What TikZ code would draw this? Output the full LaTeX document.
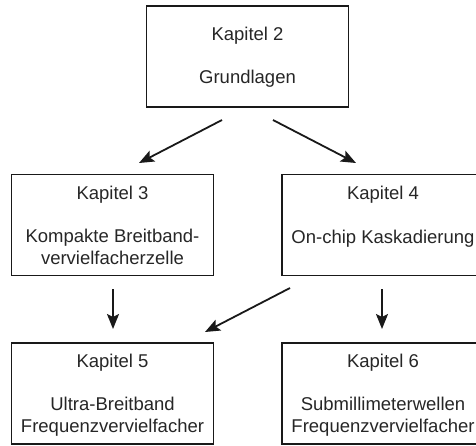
\documentclass[tikz,border=0pt]{standalone}
\usepackage{fontspec}
\setmainfont{Liberation Sans}
\usetikzlibrary{arrows.meta}
\begin{document}
\begin{tikzpicture}[x=1pt,y=-1pt,
  box/.style={draw=black!90,line width=1.8pt,minimum width=202pt,minimum height=101pt,inner sep=0pt},
  txt/.style={anchor=base,inner sep=0pt,font=\fontsize{18.5pt}{22pt}\selectfont,text=black!85},
  arr/.style={-{Stealth[length=15pt,width=12pt,inset=3pt]},line width=1.8pt,black!90}]
\useasboundingbox (0,0) rectangle (476,445);
\node[box] (k2) at (247.5,56.5) {};
\node[box] (k3) at (112.5,225) {};
\node[box] (k4) at (383,225) {};
\node[box] (k5) at (112.5,393.5) {};
\node[box] (k6) at (383,393.5) {};
\node[txt] (t2a) at (247.5,40) {Kapitel 2};
\node[txt] (t2b) at (247.5,83) {Grundlagen};
\node[txt] (t3a) at (112.5,199) {Kapitel 3};
\node[txt] (t3b) at (112.5,242) {Kompakte Breitband-};
\node[txt] (t3c) at (112.5,264) {vervielfacherzelle};
\node[txt] (t4a) at (383,199) {Kapitel 4};
\node[txt] (t4b) at (383,243) {On-chip Kaskadierung};
\node[txt] (t5a) at (112.5,367) {Kapitel 5};
\node[txt] (t5b) at (112.5,410) {Ultra-Breitband};
\node[txt] (t5c) at (112.5,432) {Frequenzvervielfacher};
\node[txt] (t6a) at (383,367) {Kapitel 6};
\node[txt] (t6b) at (383,410) {Submillimeterwellen};
\node[txt] (t6c) at (383,432) {Frequenzvervielfacher};
\coordinate (a1s) at (222,120); \coordinate (a1e) at (139,163);
\coordinate (a2s) at (273,120); \coordinate (a2e) at (356,163);
\coordinate (a3s) at (113,289); \coordinate (a3e) at (113,329);
\coordinate (a4s) at (290,288); \coordinate (a4e) at (205,332);
\coordinate (a5s) at (382,289); \coordinate (a5e) at (382,329);
\draw[arr] (a1s) -- (a1e);
\draw[arr] (a2s) -- (a2e);
\draw[arr] (a3s) -- (a3e);
\draw[arr] (a4s) -- (a4e);
\draw[arr] (a5s) -- (a5e);
\end{tikzpicture}
\end{document}
